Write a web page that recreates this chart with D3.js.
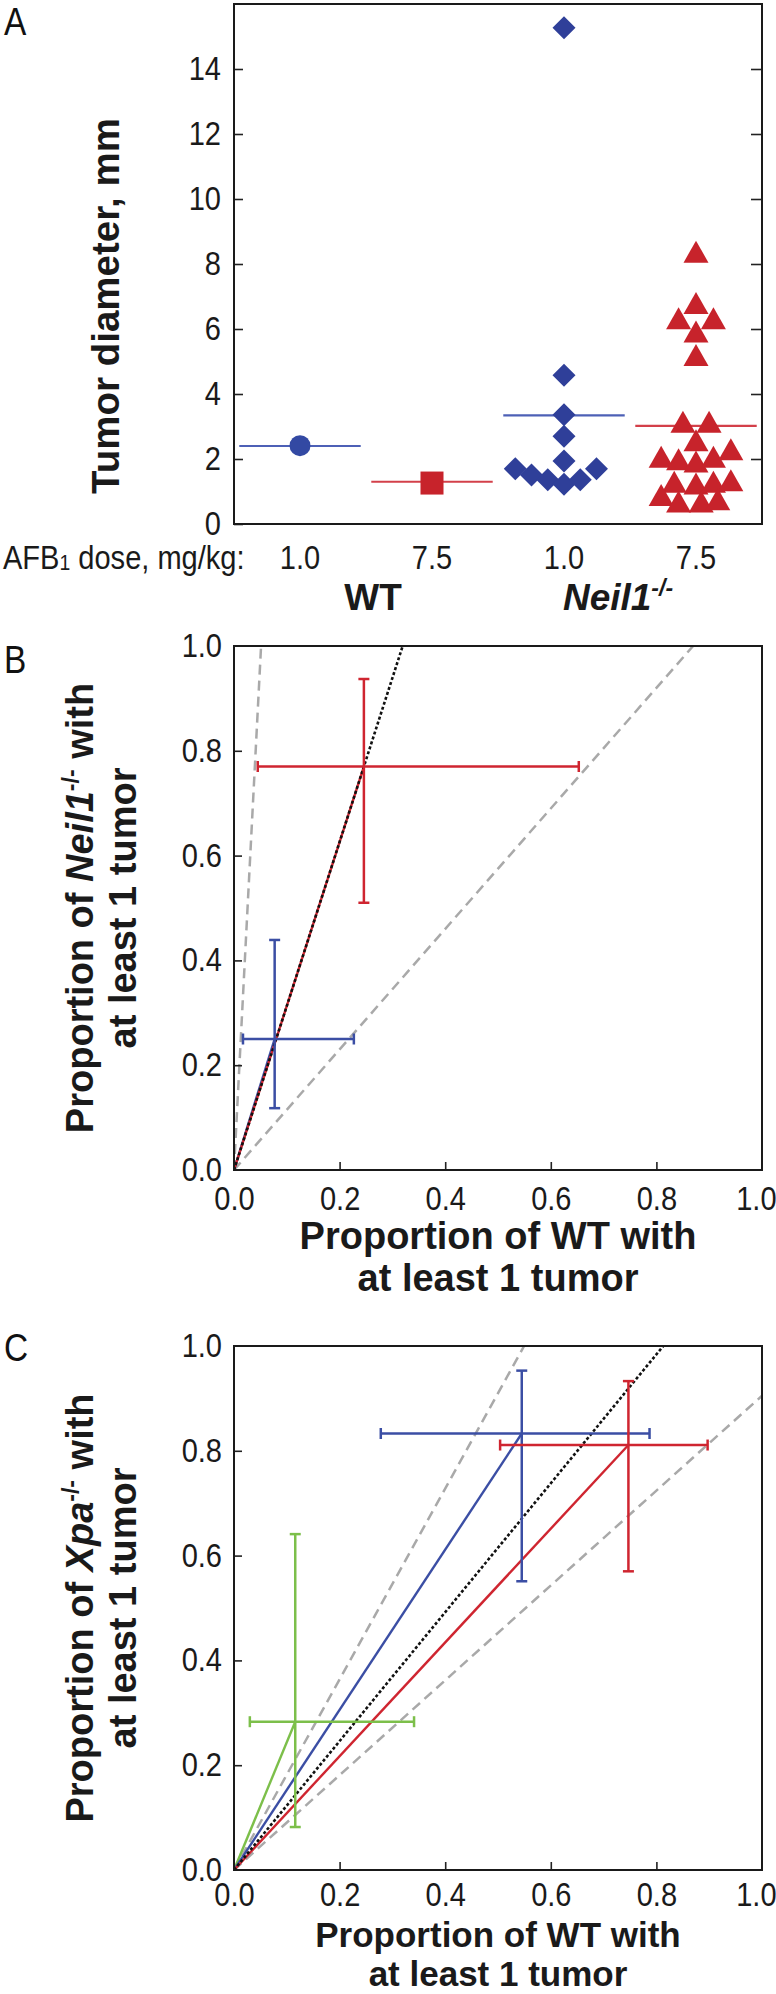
<!DOCTYPE html>
<html><head><meta charset="utf-8">
<script src="https://cdn.jsdelivr.net/npm/d3@7"></script>
<style>
body{margin:0;background:#fff;}
svg{display:block;font-family:"Liberation Sans",Arial,Helvetica,sans-serif;}
</style></head><body>
<svg id="chart" width="776" height="1994"></svg>
<script>
// ---------------- Panel A data ----------------
const groupsA = ["WT_1.0", "WT_7.5", "Neil1_1.0", "Neil1_7.5"];
const doseLabelsA = ["1.0", "7.5", "1.0", "7.5"];
const yTicksA = [0, 2, 4, 6, 8, 10, 12, 14];
const wt10Diam = [2.41];
const wt75Diam = [1.26];
const neil10Diam = [15.27, 4.58, 3.36, 2.70, 1.94, 1.70, 1.51, 1.36, 1.22, 1.36, 1.70];
const neil10Slot = [0, 0, 0, 0, 0, -3, -2, -1, 0, 1, 2];
const neil75Diam = [8.38, 6.80, 6.33, 6.33, 5.92, 5.20, 3.15, 3.15, 2.58, 2.07, 1.99, 1.92, 2.07, 2.30,
                    1.30, 1.25, 1.30, 1.35, 0.89, 0.69, 0.69, 0.76];
const neil75Slot = [0, 0, -1, 1, 0, 0, -0.75, 0.75, 0, -2, -1, 0, 1, 2,
                    -1.25, 0, 1, 2, -2, -1, 0.3, 1.25];
const meansA = [2.40, 1.30, 3.34, 3.02];

// ---------------- Panel B data ----------------
const ticksBC = [0, 0.2, 0.4, 0.6, 0.8, 1.0];
const bWT = [0.077, 0.246];
const bWTLo = [0.017, 0.045];
const bWTHi = [0.227, 0.653];
const bNeil = [0.25, 0.77];
const bNeilLo = [0.118, 0.51];
const bNeilHi = [0.439, 0.937];
const bColors = ["#3b4ea4", "#cf2530"];
const bDashedSlopes = [19.5, 1.15];
const bDottedSlope = 3.13;

// ---------------- Panel C data ----------------
const cWT = [0.116, 0.545, 0.747];
const cWTLo = [0.030, 0.278, 0.504];
const cWTHi = [0.341, 0.787, 0.897];
const cXpa = [0.283, 0.833, 0.811];
const cXpaLo = [0.082, 0.551, 0.570];
const cXpaHi = [0.641, 0.953, 0.933];
const cColors = ["#7cbf4a", "#3b4ea4", "#cf2530"];
const cDashedSlopes = [1.82, 0.905];
const cDottedSlope = 1.23;

// ---------------- Styles ----------------
const BLUE = "#2f3f99", RED = "#c7232b";
const BLUE_LINE = "#4d60b6", RED_LINE = "#d3404a";
const SX = 0.88;              // horizontal condensing of the regular (non-bold) text
const TICK_FONT = 33, TITLE_FONT = 38;

const svg = d3.select("#chart");
svg.append("rect").attr("width", 776).attr("height", 1994).attr("fill", "#fff");

const L = 234, R = 762;

function condensed(parent, x, y, size, anchor) {
  return parent.append("g").attr("transform", `translate(${x},${y}) scale(${SX},1)`)
    .append("text").attr("font-size", size).attr("text-anchor", anchor || "start").attr("fill", "#1a1a1a");
}

function styleAxis(g) {
  g.select(".domain").remove();
  g.selectAll(".tick line").attr("stroke", "#222").attr("stroke-width", 1.6);
  g.selectAll(".tick text").attr("font-size", TICK_FONT).attr("fill", "#1a1a1a")
    .each(function () {
      const t = d3.select(this);
      const x0 = +t.attr("x") || 0;
      t.attr("x", x0 / SX).attr("transform", `scale(${SX},1)`);
    });
}

// ================= Panel A =================
(function () {
  const top = 4, bottom = 524;
  const y = d3.scaleLinear().domain([0, 16]).range([bottom, top]);
  const x = d3.scaleBand().domain(groupsA).range([L, R]);
  const bw = x.bandwidth();
  const cx = g => x(g) + bw / 2;
  const g = svg.append("g");

  g.append("g").attr("transform", `translate(${L},0)`)
    .call(d3.axisLeft(y).tickValues(yTicksA).tickSize(-9).tickPadding(13).tickFormat(d3.format("d")))
    .call(styleAxis);
  g.append("g").attr("transform", `translate(${R},0)`)
    .call(d3.axisRight(y).tickValues(yTicksA.slice(1)).tickSize(-11).tickFormat(""))
    .call(styleAxis);
  g.append("rect").attr("x", L).attr("y", top).attr("width", R - L).attr("height", bottom - top)
    .attr("fill", "none").attr("stroke", "#1a1a1a").attr("stroke-width", 2);

  const meanColors = [BLUE_LINE, RED_LINE, BLUE_LINE, RED_LINE];
  g.selectAll(".mean").data(groupsA).join("line")
    .attr("x1", d => cx(d) - bw * 0.46).attr("x2", d => cx(d) + bw * 0.46)
    .attr("y1", (d, i) => y(meansA[i])).attr("y2", (d, i) => y(meansA[i]))
    .attr("stroke", (d, i) => meanColors[i]).attr("stroke-width", 2.2);

  g.selectAll(".c").data(wt10Diam).join("circle")
    .attr("cx", cx(groupsA[0])).attr("cy", d => y(d)).attr("r", 10.5).attr("fill", "#3349a3");
  g.selectAll(".s").data(wt75Diam).join("rect")
    .attr("x", cx(groupsA[1]) - 11.5).attr("y", d => y(d) - 11.5)
    .attr("width", 23).attr("height", 23).attr("fill", RED);
  const dSlot = bw * 0.123;
  g.selectAll(".d").data(neil10Diam).join("path")
    .attr("d", "M0,-11.5L11.5,0L0,11.5L-11.5,0Z")
    .attr("transform", (d, i) => `translate(${cx(groupsA[2]) + neil10Slot[i] * dSlot},${y(d)})`)
    .attr("fill", BLUE);
  const tSlot = bw * 0.132;
  g.selectAll(".t").data(neil75Diam).join("path")
    .attr("d", "M0,-11L12.5,11L-12.5,11Z")
    .attr("transform", (d, i) => `translate(${cx(groupsA[3]) + neil75Slot[i] * tSlot},${y(d)})`)
    .attr("fill", RED);

  g.append("text").attr("transform", `translate(119,306) rotate(-90)`)
    .attr("text-anchor", "middle").attr("font-weight", "bold").attr("font-size", 38.5)
    .attr("fill", "#1a1a1a").text("Tumor diameter, mm");

  const doseY = 569;
  const t = condensed(g, 3, doseY, TICK_FONT, "start");
  t.append("tspan").text("AFB");
  t.append("tspan").attr("font-size", 22).attr("dy", 1).text("1");
  t.append("tspan").attr("dy", -1).text(" dose, mg/kg:");
  groupsA.forEach((d, i) => condensed(g, cx(d), doseY, TICK_FONT, "middle").text(doseLabelsA[i]));

  const gy = 610;
  g.append("text").attr("x", (cx(groupsA[0]) + cx(groupsA[1])) / 2 + 7).attr("y", gy)
    .attr("text-anchor", "middle").attr("font-weight", "bold").attr("font-size", 37)
    .attr("fill", "#1a1a1a").text("WT");
  const nt = g.append("text").attr("x", (cx(groupsA[2]) + cx(groupsA[3])) / 2 - 12).attr("y", gy)
    .attr("text-anchor", "middle").attr("font-weight", "bold").attr("font-style", "italic")
    .attr("font-size", 37).attr("fill", "#1a1a1a");
  nt.append("tspan").text("Neil1");
  nt.append("tspan").attr("font-size", 23).attr("dy", -14).text("-/-");

  condensed(svg, 4, 35, 38, "start").attr("fill", "#111").text("A");
})();

// ================= Panels B & C =================
function scatterPanel(opts) {
  const { top, bottom, wt, wtLo, wtHi, ko, koLo, koHi, colors, dashed, dotted, gene, letter, letterY,
          titleDy, titleFont, xPad, id } = opts;
  const x = d3.scaleLinear().domain([0, 1]).range([L, R]);
  const y = d3.scaleLinear().domain([0, 1]).range([bottom, top]);
  const g = svg.append("g");

  g.append("clipPath").attr("id", id).append("rect")
    .attr("x", L).attr("y", top).attr("width", R - L).attr("height", bottom - top);
  const pg = g.append("g").attr("clip-path", `url(#${id})`);

  const endPt = s => [Math.min(1, 1 / s), Math.min(1, s)];
  pg.selectAll(".dash").data(dashed).join("line")
    .attr("x1", x(0)).attr("y1", y(0))
    .attr("x2", s => x(endPt(s)[0])).attr("y2", s => y(endPt(s)[1]))
    .attr("stroke", "#a9a9a9").attr("stroke-width", 2.5).attr("stroke-dasharray", "10,6");
  pg.selectAll(".seg").data(wt).join("line")
    .attr("x1", x(0)).attr("y1", y(0))
    .attr("x2", d => x(d)).attr("y2", (d, i) => y(ko[i]))
    .attr("stroke", (d, i) => colors[i]).attr("stroke-width", 2.4);
  const e = endPt(dotted);
  pg.append("line").attr("x1", x(0)).attr("y1", y(0)).attr("x2", x(e[0])).attr("y2", y(e[1]))
    .attr("stroke", "#111").attr("stroke-width", 2.6).attr("stroke-dasharray", "3,2.2");

  const cap = 5.5;
  wt.forEach((d, i) => {
    const c = colors[i];
    const eb = g.append("g").attr("stroke", c).attr("stroke-width", 2.5);
    eb.append("line").attr("x1", x(wtLo[i])).attr("x2", x(wtHi[i])).attr("y1", y(ko[i])).attr("y2", y(ko[i]));
    eb.append("line").attr("x1", x(d)).attr("x2", x(d)).attr("y1", y(koLo[i])).attr("y2", y(koHi[i]));
    [wtLo[i], wtHi[i]].forEach(v => eb.append("line").attr("x1", x(v)).attr("x2", x(v))
      .attr("y1", y(ko[i]) - cap).attr("y2", y(ko[i]) + cap));
    [koLo[i], koHi[i]].forEach(v => eb.append("line").attr("y1", y(v)).attr("y2", y(v))
      .attr("x1", x(d) - cap).attr("x2", x(d) + cap));
  });

  g.append("g").attr("transform", `translate(${L},0)`)
    .call(d3.axisLeft(y).tickValues(ticksBC).tickSize(-8).tickPadding(12).tickFormat(d3.format(".1f")))
    .call(styleAxis)
    .call(a => a.selectAll(".tick line").filter(d => d === 0 || d === 1).remove());
  g.append("g").attr("transform", `translate(0,${bottom})`)
    .call(d3.axisBottom(x).tickValues(ticksBC).tickSize(-8).tickPadding(xPad).tickFormat(d3.format(".1f")))
    .call(styleAxis)
    .call(a => a.selectAll(".tick line").filter(d => d === 0 || d === 1).remove())
    .call(a => a.selectAll(".tick text").filter(d => d === 1).attr("dx", -7));
  g.append("rect").attr("x", L).attr("y", top).attr("width", R - L).attr("height", bottom - top)
    .attr("fill", "none").attr("stroke", "#1a1a1a").attr("stroke-width", 2);

  const xc = (L + R) / 2;
  [["Proportion of WT with", titleDy[0]], ["at least 1 tumor", titleDy[1]]].forEach(([s, dy]) => {
    g.append("text").attr("x", xc).attr("y", bottom + dy).attr("text-anchor", "middle")
      .attr("font-weight", "bold").attr("font-size", titleFont).attr("fill", "#1a1a1a").text(s);
  });
  const yc = (top + bottom) / 2;
  const t1 = g.append("text").attr("transform", `translate(93,${yc}) rotate(-90)`)
    .attr("text-anchor", "middle").attr("font-weight", "bold").attr("font-size", TITLE_FONT).attr("fill", "#1a1a1a");
  t1.append("tspan").text("Proportion of ");
  t1.append("tspan").attr("font-style", "italic").text(gene);
  t1.append("tspan").attr("font-size", 23).attr("dy", -14).text("-/-");
  t1.append("tspan").attr("dy", 14).text(" with");
  g.append("text").attr("transform", `translate(136,${yc}) rotate(-90)`)
    .attr("text-anchor", "middle").attr("font-weight", "bold").attr("font-size", TITLE_FONT)
    .attr("fill", "#1a1a1a").text("at least 1 tumor");

  condensed(svg, 4, letterY, 38, "start").attr("fill", "#111").text(letter);
}

scatterPanel({ top: 646, bottom: 1170, wt: bWT, wtLo: bWTLo, wtHi: bWTHi, ko: bNeil, koLo: bNeilLo, koHi: bNeilHi,
  colors: bColors, dashed: bDashedSlopes, dotted: bDottedSlope, gene: "Neil1", letter: "B", letterY: 673,
  titleDy: [79, 121], titleFont: TITLE_FONT, xPad: 17, id: "clipB" });
scatterPanel({ top: 1346, bottom: 1870, wt: cWT, wtLo: cWTLo, wtHi: cWTHi, ko: cXpa, koLo: cXpaLo, koHi: cXpaHi,
  colors: cColors, dashed: cDashedSlopes, dotted: cDottedSlope, gene: "Xpa", letter: "C", letterY: 1361,
  titleDy: [77, 116], titleFont: 35, xPad: 13, id: "clipC" });
</script>
</body></html>
